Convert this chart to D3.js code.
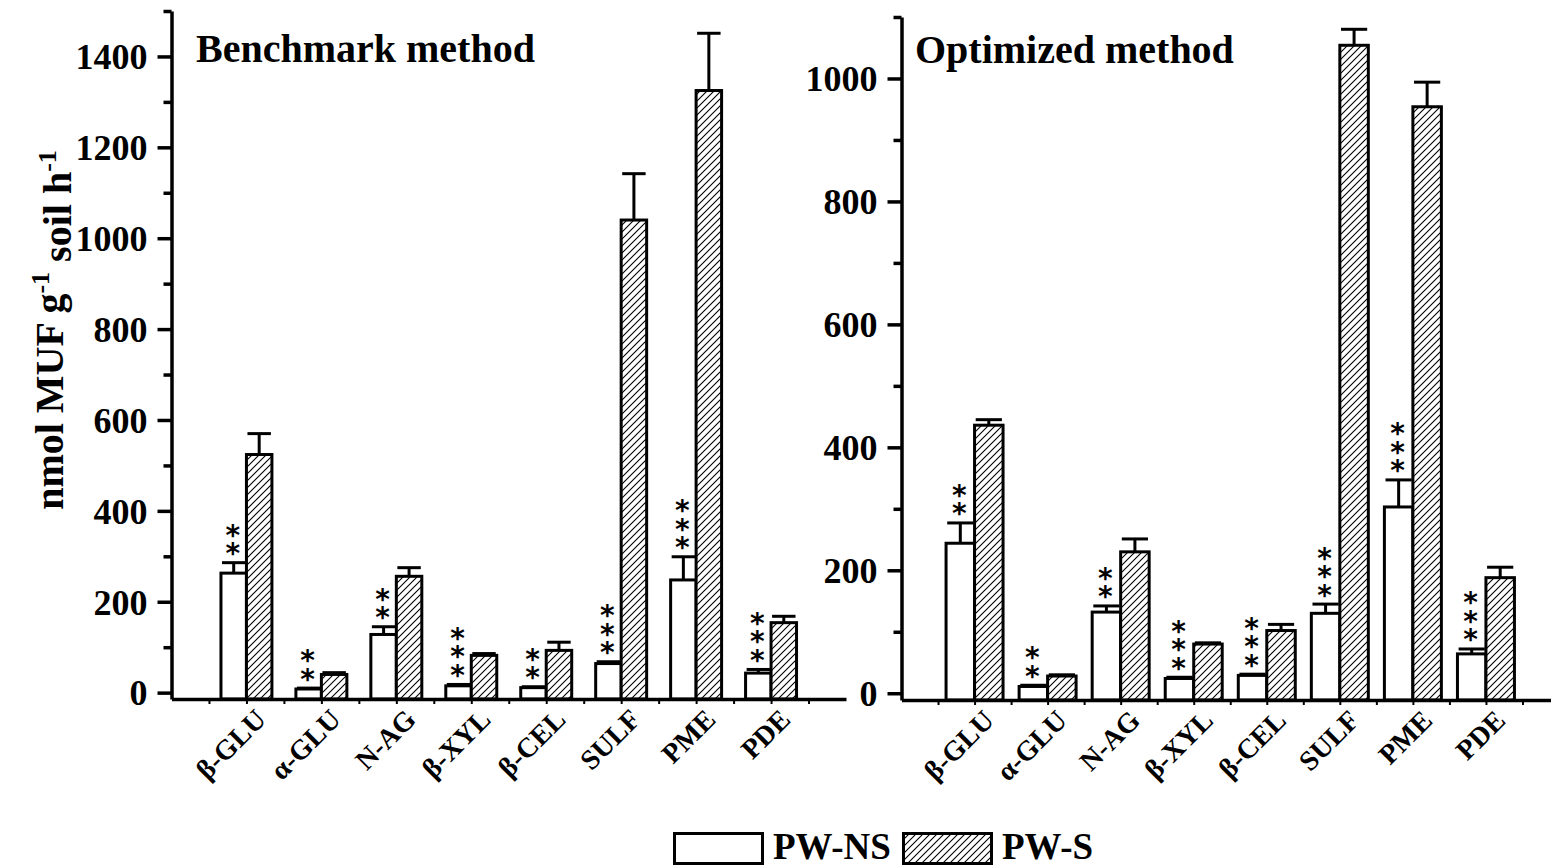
<!DOCTYPE html>
<html>
<head>
<meta charset="utf-8">
<script src="https://cdn.jsdelivr.net/npm/d3@7"></script>
<style>
  html, body { margin: 0; padding: 0; background: #fff; }
  svg { display: block; }
  text { font-family: "Liberation Serif", "Times New Roman", serif; font-weight: bold; fill: #000; }
</style>
</head>
<body>
<svg id="chart" width="1551" height="868"></svg>
<script>
// ---------- data ----------
const categories = ["β-GLU", "α-GLU", "N-AG", "β-XYL", "β-CEL", "SULF", "PME", "PDE"];
const seriesNames = ["PW-NS", "PW-S"];

// Benchmark method
const benchNS    = [263, 8, 128, 15, 11, 64, 248, 43];
const benchNSErr = [23, 2, 17, 3, 2, 4, 51, 8];
const benchS     = [524, 40, 256, 82, 93, 1040, 1325, 154];
const benchSErr  = [46, 4, 19, 4, 18, 102, 126, 14];
const benchSig   = ["**", "**", "**", "***", "**", "***", "***", "***"];
const benchMajorTicks = [0, 200, 400, 600, 800, 1000, 1200, 1400];
const benchMinorTicks = [100, 300, 500, 700, 900, 1100, 1300, 1500];

// Optimized method
const optNS    = [244, 11, 132, 24, 29, 130, 303, 64];
const optNSErr = [33, 2, 10, 2, 2, 15, 44, 8];
const optS     = [436, 28, 230, 80, 102, 1054, 954, 188];
const optSErr  = [9, 2, 21, 2, 10, 26, 40, 17];
const optSig   = ["**", "**", "**", "***", "***", "***", "***", "***"];
const optMajorTicks = [0, 200, 400, 600, 800, 1000];
const optMinorTicks = [100, 300, 500, 700, 900, 1100];

const titles = ["Benchmark method", "Optimized method"];
const yAxisTitle = "nmol MUF g";

// ---------- layout ----------
const svg = d3.select("#chart");
const defs = svg.append("defs");
const pat = defs.append("pattern")
  .attr("id", "hatch").attr("patternUnits", "userSpaceOnUse")
  .attr("width", 7).attr("height", 7);
pat.append("rect").attr("width", 7).attr("height", 7).attr("fill", "#fff");
pat.append("path")
  .attr("d", "M-1,8 L8,-1 M-1,1 L1,-1 M6,8 L8,6")
  .attr("stroke", "#000").attr("stroke-width", 1.1);

const panels = [
  { title: titles[0], ns: benchNS, nsErr: benchNSErr, s: benchS, sErr: benchSErr, sig: benchSig,
    major: benchMajorTicks, minor: benchMinorTicks, yDomain: [-14, 1500],
    xRange: [171.5, 846], yRange: [699, 11], barFrac: 0.34, titleX: 196, titleY: 62 },
  { title: titles[1], ns: optNS, nsErr: optNSErr, s: optS, sErr: optSErr, sig: optSig,
    major: optMajorTicks, minor: optMinorTicks, yDomain: [-11, 1100],
    xRange: [901.5, 1559], yRange: [700, 17], barFrac: 0.39, titleX: 915, titleY: 63 }
];

panels.forEach(p => {
  const x = d3.scaleLinear().domain([0, 9]).range(p.xRange);
  const y = d3.scaleLinear().domain(p.yDomain).range(p.yRange);
  const unit = x(1) - x(0);
  const bw = p.barFrac * unit;
  const base = p.yRange[0];
  const g = svg.append("g");

  const rows = categories.map((c, i) => ({ c, i, ns: p.ns[i], nsErr: p.nsErr[i], s: p.s[i], sErr: p.sErr[i], sig: p.sig[i] }));

  // error bars
  const errs = [];
  rows.forEach(r => {
    errs.push({ cx: x(r.i + 1) - bw / 2, v: r.ns, e: r.nsErr });
    errs.push({ cx: x(r.i + 1) + bw / 2, v: r.s, e: r.sErr });
  });
  const eg = g.append("g").attr("stroke", "#000").attr("stroke-width", 3);
  eg.selectAll("line.ev").data(errs).join("line").attr("class", "ev")
    .attr("x1", d => d.cx).attr("x2", d => d.cx)
    .attr("y1", d => y(d.v)).attr("y2", d => y(d.v + d.e));
  eg.selectAll("line.ec").data(errs).join("line").attr("class", "ec")
    .attr("x1", d => d.cx - bw * 0.46).attr("x2", d => d.cx + bw * 0.46)
    .attr("y1", d => y(d.v + d.e)).attr("y2", d => y(d.v + d.e));

  // bars
  g.selectAll("rect.ns").data(rows).join("rect").attr("class", "ns")
    .attr("x", d => x(d.i + 1) - bw).attr("width", bw)
    .attr("y", d => y(d.ns)).attr("height", d => base - y(d.ns))
    .attr("fill", "#fff").attr("stroke", "#000").attr("stroke-width", 3);
  g.selectAll("rect.s").data(rows).join("rect").attr("class", "s")
    .attr("x", d => x(d.i + 1)).attr("width", bw)
    .attr("y", d => y(d.s)).attr("height", d => base - y(d.s))
    .attr("fill", "url(#hatch)").attr("stroke", "#000").attr("stroke-width", 3);

  // significance stars, one text per star, stacked above the PW-NS error bar
  const stars = [];
  rows.forEach(r => {
    r.sig.split("").forEach((ch, k) => stars.push({ ch, cx: x(r.i + 1) - bw / 2 - 1, top: y(r.ns + r.nsErr), k }));
  });
  g.selectAll("text.star").data(stars).join("text").attr("class", "star")
    .attr("x", d => d.cx)
    .attr("y", d => d.top - 15 - d.k * 18.5 + 15.5)
    .attr("text-anchor", "middle")
    .style("font-family", "'DejaVu Sans', sans-serif")
    .style("font-weight", "bold")
    .style("font-size", "28px")
    .text(d => d.ch);

  // y axis
  const yAxis = d3.axisLeft(y).tickValues(p.major).tickSize(14).tickSizeOuter(0).tickPadding(10)
    .tickFormat(d3.format("d"));
  const ya = g.append("g").attr("transform", `translate(${p.xRange[0]},0)`).call(yAxis);
  ya.select(".domain").attr("stroke-width", 3.5);
  ya.selectAll(".tick line").attr("stroke-width", 3.5);
  ya.selectAll(".tick text").style("font-size", "36px").style("font-family", "'Liberation Serif', serif")
    .style("font-weight", "bold").attr("dy", "0.34em");
  const yMinor = d3.axisLeft(y).tickValues(p.minor).tickSize(8).tickSizeOuter(0).tickFormat("");
  const ym = g.append("g").attr("transform", `translate(${p.xRange[0]},0)`).call(yMinor);
  ym.select(".domain").remove();
  ym.selectAll(".tick line").attr("stroke-width", 3.5);

  // x axis
  const xAxis = d3.axisBottom(x).tickValues(d3.range(0.5, 9, 0.5)).tickSize(5).tickSizeOuter(0).tickFormat("");
  const xa = g.append("g").attr("transform", `translate(0,${base})`).call(xAxis);
  xa.select(".domain").attr("stroke-width", 3.5);
  xa.selectAll(".tick line").attr("stroke-width", 2);

  // category labels
  g.selectAll("text.cat").data(rows).join("text").attr("class", "cat")
    .attr("transform", d => `translate(${x(d.i + 1) + 21},${base + 22}) rotate(-45)`)
    .attr("text-anchor", "end")
    .style("font-size", "28px")
    .text(d => d.c);

  // panel title
  g.append("text").attr("x", p.titleX).attr("y", p.titleY)
    .style("font-size", "40px").text(p.title);
});

// y axis title
const yt = svg.append("text")
  .attr("transform", "translate(63,330) rotate(-90)")
  .attr("text-anchor", "middle")
  .style("font-size", "40px");
yt.append("tspan").text(yAxisTitle);
yt.append("tspan").attr("dy", "-0.55em").style("font-size", "26px").text("-1");
yt.append("tspan").attr("dy", "0.55em").text(" soil h");
yt.append("tspan").attr("dy", "-0.55em").style("font-size", "26px").text("-1");

// legend
const legend = svg.append("g");
const legendItems = [
  { name: seriesNames[0], fill: "#fff", x: 674.5, tx: 773 },
  { name: seriesNames[1], fill: "url(#hatch)", x: 903.5, tx: 1002 }
];
legend.selectAll("rect").data(legendItems).join("rect")
  .attr("x", d => d.x).attr("y", 833.5).attr("width", 88).attr("height", 30)
  .attr("fill", d => d.fill).attr("stroke", "#000").attr("stroke-width", 3);
legend.selectAll("text").data(legendItems).join("text")
  .attr("x", d => d.tx).attr("y", 859)
  .style("font-size", "37px").text(d => d.name);
</script>
</body>
</html>
